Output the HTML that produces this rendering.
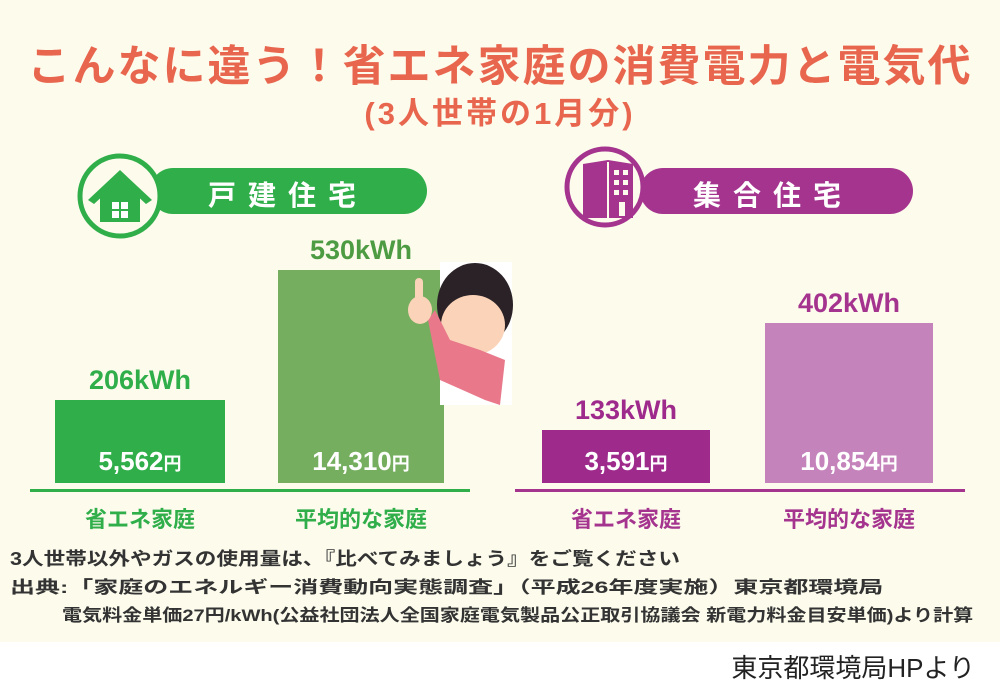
<!DOCTYPE html><html><head><meta charset="utf-8"><style>
body{margin:0;width:1000px;height:700px;background:#fff;font-family:"Liberation Sans","Noto Sans CJK JP",sans-serif;overflow:hidden;position:relative}
.bg{position:absolute;left:0;top:0;width:1000px;height:642px;background:#fcfbec}
.a{position:absolute;white-space:nowrap;font-weight:bold}
.bar{position:absolute}
.s{position:absolute;white-space:nowrap;font-weight:bold;transform-origin:0 0}
</style></head><body><div class="bg"></div>
<div class="a" style="left:0;width:1000px;text-align:center;top:32px;font-size:43px;color:#e8654e;letter-spacing:2px">こんなに違う！省エネ家庭の消費電力と電気代</div>
<div class="a" style="left:0;width:1000px;text-align:center;top:88px;font-size:31px;color:#e8654e;letter-spacing:3px">(3人世帯の1月分)</div>
<svg style="position:absolute;left:0;top:0" width="1000" height="640">
<rect x="150" y="168" width="277" height="46" rx="23" fill="#2fae4a"/>
<circle cx="120" cy="196" r="40" fill="#fcfbec" stroke="#2fae4a" stroke-width="5"/>
<path d="M88 200 L120 170 L152 200 L146 204 L120 180 L94 204Z M100 198 L120 180 L140 198 L140 222 L100 222Z" fill="#2fae4a"/>
<rect x="112" y="202" width="16" height="16" fill="#fff"/><path d="M120 202v16M112 210h16" stroke="#2fae4a" stroke-width="2"/>
<rect x="640" y="168" width="273" height="46" rx="23" fill="#a5348f"/>
<circle cx="605" cy="187" r="38" fill="#fcfbec" stroke="#a5348f" stroke-width="5"/>
<path d="M583 164 L608 160 L633 164 L633 218 L583 218Z" fill="#a5348f"/>
<g fill="#fcfbec"><rect x="614" y="170" width="5" height="5"/><rect x="623" y="170" width="5" height="5"/><rect x="614" y="180" width="5" height="5"/><rect x="623" y="180" width="5" height="5"/><rect x="614" y="190" width="5" height="5"/><rect x="623" y="190" width="5" height="5"/><rect x="619" y="202" width="6" height="14"/><rect x="607" y="162" width="2" height="56"/></g>
<rect x="30" y="489" width="440" height="3" fill="#2fae4a"/>
<rect x="515" y="489" width="450" height="3" fill="#a5348f"/>
</svg>
<div class="a" style="left:208px;top:174px;font-size:28px;color:#fff;letter-spacing:12px">戸建住宅</div>
<div class="a" style="left:693px;top:174px;font-size:28px;color:#fff;letter-spacing:12px">集合住宅</div>
<div class="bar" style="left:55px;top:400px;width:170px;height:83px;background:#2fae4a"></div>
<div class="bar" style="left:278px;top:270px;width:166px;height:213px;background:#75ae5f"></div>
<div class="bar" style="left:542px;top:430px;width:168px;height:53px;background:#9e2a8c"></div>
<div class="bar" style="left:765px;top:323px;width:168px;height:160px;background:#c583bb"></div>
<div class="a" style="left:55px;width:170px;text-align:center;top:365px;font-size:27px;color:#2fae4a">206kWh</div>
<div class="a" style="left:278px;width:166px;text-align:center;top:235px;font-size:27px;color:#4d9b42">530kWh</div>
<div class="a" style="left:542px;width:168px;text-align:center;top:395px;font-size:27px;color:#9e2a8c">133kWh</div>
<div class="a" style="left:765px;width:168px;text-align:center;top:288px;font-size:27px;color:#a5348f">402kWh</div>
<div class="a" style="left:55px;width:170px;text-align:center;top:446px;font-size:26px;color:#fff">5,562<span style="font-size:18px">円</span></div>
<div class="a" style="left:278px;width:166px;text-align:center;top:446px;font-size:26px;color:#fff">14,310<span style="font-size:18px">円</span></div>
<div class="a" style="left:542px;width:168px;text-align:center;top:446px;font-size:26px;color:#fff">3,591<span style="font-size:18px">円</span></div>
<div class="a" style="left:765px;width:168px;text-align:center;top:446px;font-size:26px;color:#fff">10,854<span style="font-size:18px">円</span></div>
<div class="a" style="left:55px;width:170px;text-align:center;top:502px;font-size:22px;color:#2fae4a">省エネ家庭</div>
<div class="a" style="left:278px;width:166px;text-align:center;top:502px;font-size:22px;color:#2fae4a">平均的な家庭</div>
<div class="a" style="left:542px;width:168px;text-align:center;top:502px;font-size:22px;color:#a5348f">省エネ家庭</div>
<div class="a" style="left:765px;width:168px;text-align:center;top:502px;font-size:22px;color:#a5348f">平均的な家庭</div>
<div style="position:absolute;left:440px;top:262px;width:72px;height:143px;background:#fff"></div>
<svg style="position:absolute;left:400px;top:250px" width="150" height="170">
<ellipse cx="75" cy="55" rx="38" ry="42" fill="#2a2226"/>
<ellipse cx="73" cy="75" rx="32" ry="30" fill="#fbd3b8"/>
<path d="M28 70 L40 130 L85 150 L100 155 L105 110 L80 100 L50 90 L35 60Z" fill="#e8788a"/>
<ellipse cx="20" cy="60" rx="12" ry="14" fill="#fbd3b8"/><rect x="15" y="28" width="8" height="30" rx="4" fill="#fbd3b8"/>
</svg>
<div class="s" style="left:10px;top:545px;font-size:18px;color:#333;transform:scaleX(1.2)">3人世帯以外やガスの使用量は、『比べてみましょう』をご覧ください</div>
<div class="s" style="left:10px;top:573px;font-size:17px;color:#333;transform:scaleX(1.47)">出典:「家庭のエネルギー消費動向実態調査」（平成26年度実施）東京都環境局</div>
<div class="s" style="left:62px;top:601px;font-size:17px;color:#333;transform:scaleX(1.18)">電気料金単価27円/kWh(公益社団法人全国家庭電気製品公正取引協議会 新電力料金目安単価)より計算</div>
<div style="position:absolute;right:25px;top:648px;font-size:26px;color:#222;white-space:nowrap">東京都環境局HPより</div>
</body></html>
